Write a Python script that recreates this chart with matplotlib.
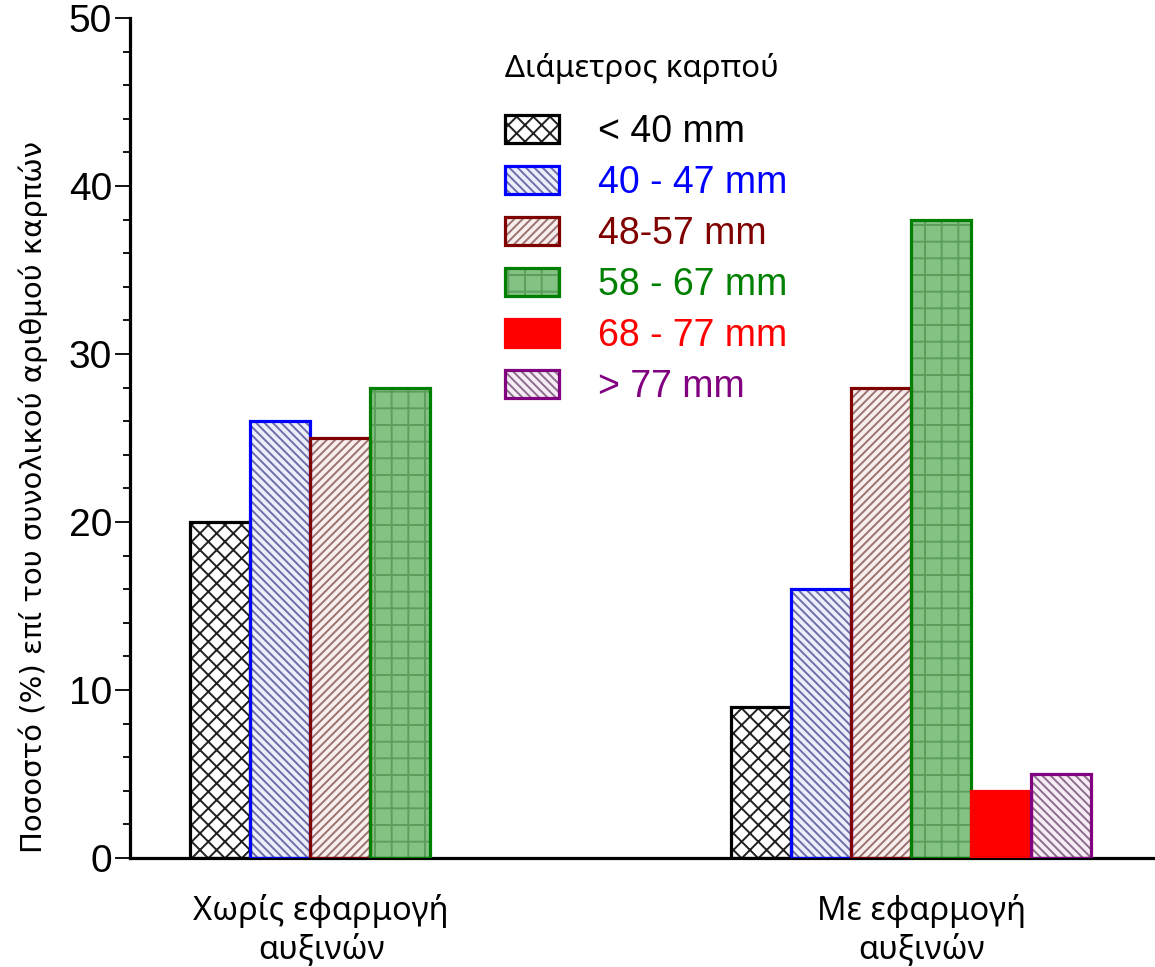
"""Κατανομή διαμέτρου καρπού με και χωρίς εφαρμογή αυξινών."""
import matplotlib
matplotlib.use("Agg")
import matplotlib.pyplot as plt
from matplotlib.legend_handler import HandlerTuple
from matplotlib.ticker import MultipleLocator

GROUPS = ["Χωρίς εφαρμογή\nαυξινών", "Με εφαρμογή\nαυξινών"]
CLASSES = ["< 40 mm", "40 - 47 mm", "48-57 mm", "58 - 67 mm", "68 - 77 mm", "> 77 mm"]
# ποσοστό (%) ανά κλάση, μία λίστα ανά ομάδα
NO_AUXIN = [20, 26, 25, 28, 0, 0]
WITH_AUXIN = [9, 16, 28, 38, 4, 5]

YLABEL = "Ποσοστό (%) επί του συνολικού αριθμού καρπών"
LEGEND_TITLE = "Διάμετρος καρπού"

# (περίγραμμα, γέμισμα, χρώμα διαγράμμισης, διαγράμμιση)
STYLES = [
    ("black", "white", "#202020", "xx"),
    ("#0000ff", "#eeeef8", "#6e6eaa", "\\\\\\\\"),
    ("#800000", "#f8eeee", "#9c7272", "////"),
    ("#008000", "#84c284", "#5c9e5c", "+"),
    ("#ff0000", "#ff0000", "#ff0000", None),
    ("#800080", "#f6ecf6", "#8c6e8c", "\\\\\\\\"),
]
GAP = 3  # κενές θέσεις ανάμεσα στις ομάδες

plt.rcParams["hatch.linewidth"] = 1.4

fig = plt.figure(figsize=(11.55, 9.67), dpi=100)
ax = fig.add_axes([130 / 1155, 109 / 967, 1 - 130 / 1155, 840 / 967])

series = [NO_AUXIN, WITH_AUXIN]
step = len(CLASSES) + GAP
handles = [None] * len(CLASSES)
tick_pos = []
for g, vals in enumerate(series):
    present = []
    for j, v in enumerate(vals):
        edge, face, hcol, hatch = STYLES[j]
        if v == 0:
            continue
        x = g * step + j
        present.append(x)
        fill = ax.bar(x, v, width=1.0, color=face, edgecolor=hcol, hatch=hatch,
                      linewidth=0, zorder=2)
        line = ax.bar(x, v, width=1.0, facecolor="none", edgecolor=edge,
                      linewidth=2.3, zorder=3)
        handles[j] = (fill[0], line[0])
    tick_pos.append(sum(present) / len(present) + 0.18)

ax.set_xlim(-1.5, 15.56)
ax.set_ylim(0, 50)
ax.yaxis.set_major_locator(MultipleLocator(10))
ax.yaxis.set_minor_locator(MultipleLocator(2))
ax.set_xticks(tick_pos)
ax.set_xticklabels(GROUPS, fontsize=23.5, family="Noto Sans", linespacing=1.2)
ax.tick_params(axis="x", length=0, pad=26)
ax.tick_params(axis="y", which="major", length=11, width=1.3, direction="out",
               labelsize=28, pad=2)
ax.tick_params(axis="y", which="minor", length=5, width=1.3, direction="out")
for lab in ax.get_yticklabels():
    lab.set_family("Liberation Sans")

for side in ("top", "right"):
    ax.spines[side].set_visible(False)
for side in ("left", "bottom"):
    ax.spines[side].set_linewidth(2.3)

ax.set_ylabel(YLABEL, fontsize=21, family="DejaVu Sans")
ax.yaxis.set_label_coords(-0.08, 0.43)

leg = ax.legend(handles, CLASSES, handler_map={tuple: HandlerTuple(ndivide=1)},
                loc="upper left", bbox_to_anchor=(0.34, 0.99), frameon=False,
                prop={"family": "Liberation Sans", "size": 27},
                title=LEGEND_TITLE,
                title_fontproperties={"family": "Noto Sans", "size": 22.5},
                alignment="left", handlelength=1.45, handleheight=0.75,
                handletextpad=1.05, labelspacing=0.4, borderpad=0.2)
leg._legend_box.sep = 22
for txt, st in zip(leg.get_texts(), STYLES):
    txt.set_color(st[0])

fig.savefig("out.png", dpi=100)
